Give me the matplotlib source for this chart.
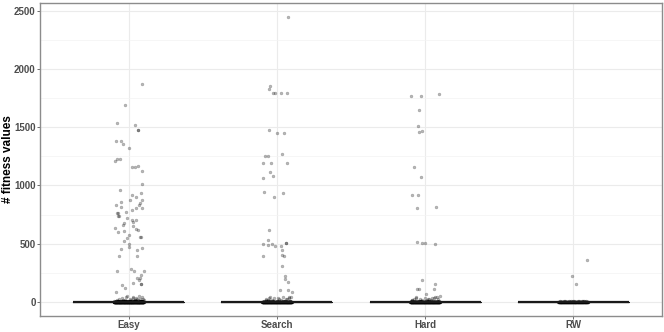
import numpy as np
import matplotlib
matplotlib.use("Agg")
import matplotlib.pyplot as plt

categories = ["Easy", "Search", "Hard", "RW"]
y_label = "# fitness values"
y_ticks = [0, 500, 1000, 1500, 2000, 2500]

# visible (non-zero) jittered points: jitter offset and value
easy_off = [0.088, -0.027, -0.08, 0.04, 0.06, 0.062, -0.09, -0.05, -0.04, 0.0, -0.08, -0.06, -0.095,
            0.02, 0.04, 0.06, 0.088, 0.09, -0.06, 0.08, 0.02, 0.05, 0.09, 0.01, -0.05, -0.09, 0.075,
            0.068, -0.055, 0.05, -0.08, -0.075, -0.02, 0.02, 0.088, -0.07, -0.065, -0.01, 0.02, 0.05,
            -0.03, 0.03, -0.095, -0.04, 0.03, 0.05, -0.07, -0.035, 0.06, 0.0, 0.075, 0.085, -0.015,
            -0.035, 0.0, 0.0, -0.05, 0.09, 0.055, -0.065, 0.055, -0.08, 0.013, 0.1, 0.035, 0.08, 0.075,
            0.055, 0.068, 0.08, 0.082, -0.047, 0.027, -0.027, -0.088,
            -0.097, -0.09, -0.083, -0.078, -0.072, -0.066, -0.061, -0.055, -0.049, -0.044, -0.038,
            -0.033, -0.027, -0.021, -0.016, -0.011, -0.005, 0.001, 0.006, 0.012, 0.017, 0.023, 0.028,
            0.034, 0.039, 0.045, 0.05, 0.056, 0.061, 0.067, 0.072, 0.078, 0.083, 0.089, 0.094, 0.099,
            -0.093, -0.07, -0.052, -0.031, -0.012, 0.008, 0.026, 0.044, 0.063, 0.081, 0.097, -0.086,
            -0.058, -0.024, 0.015, 0.052, 0.088, -0.067, -0.04, 0.003, 0.037, 0.07, -0.015, 0.03]
easy_val = [1871, 1690, 1534, 1517, 1474, 1480, 1379, 1379, 1353, 1319, 1224, 1224, 1207,
            1155, 1155, 1164, 1121, 1009, 957, 931, 922, 897, 879, 879, 862, 836, 853,
            828, 819, 810, 767, 767, 776, 793, 802, 741, 741, 716, 707, 707,
            681, 690, 638, 664, 655, 629, 603, 612, 620, 578, 560, 560, 552,
            526, 500, 474, 457, 466, 448, 397, 397, 267, 284, 267, 267, 233, 207,
            207, 190, 155, 155, 147, 164, 121, 86,
            3, 8, 1, 15, 5, 22, 2, 9, 31, 4, 12, 0, 18, 6, 40, 2, 11, 7, 25, 1, 14, 3, 45, 9, 19, 5,
            33, 2, 12, 50, 6, 27, 8, 38, 4, 16, 2, 7, 1, 10, 3, 5, 0, 13, 2, 6, 21, 1, 4, 9, 2, 28,
            3, 0, 6, 2, 11, 1, 48, 35]

search_off = [0.074, -0.05, -0.052, -0.03, -0.01, 0.03, 0.07, -0.055, 0.0, 0.05, 0.035, -0.08,
              -0.06, -0.095, -0.04, 0.065, -0.047, -0.027, -0.095, -0.088, -0.02, 0.04, -0.054,
              -0.061, -0.095, -0.061, -0.034, -0.014, 0.027, 0.06, 0.062, 0.034, -0.095, 0.034,
              0.047, 0.034, 0.054, 0.054, 0.074, 0.02, 0.074, 0.1,
              -0.095, -0.087, -0.08, -0.071, -0.064, -0.056, -0.047, -0.04, -0.033, -0.025, -0.017,
              -0.009, -0.002, 0.006, 0.014, 0.022, 0.03, 0.038, 0.046, 0.054, 0.062, 0.07, 0.078,
              0.086, 0.094, -0.06, -0.045, -0.03, 0.01, 0.042, 0.066, 0.08, 0.09, -0.076, -0.052]
search_val = [2448, 1853, 1827, 1793, 1793, 1793, 1793, 1474, 1448, 1448, 1267, 1250,
              1250, 1190, 1190, 1190, 1112, 1078, 1060, 940, 905, 931, 621,
              534, 500, 491, 500, 483, 483, 509, 509, 448, 397, 405,
              397, 310, 224, 198, 172, 103, 103, 86,
              2, 6, 1, 12, 3, 30, 8, 1, 18, 4, 36, 2, 9, 5, 22, 1, 14, 40, 3, 7, 26, 2, 34, 10, 42,
              15, 38, 4, 32, 6, 28, 44, 11, 20, 5]

hard_off = [-0.095, -0.03, 0.095, -0.04, -0.047, -0.04, -0.02, -0.074, -0.027, -0.088, -0.047,
            0.074, -0.054, -0.054, -0.02, 0.0, 0.068, -0.02, 0.068, -0.054, -0.04, 0.06, 0.007, 0.1,
            -0.098, -0.09, -0.082, -0.074, -0.066, -0.058, -0.05, -0.042, -0.034, -0.026, -0.018,
            -0.01, -0.002, 0.006, 0.014, 0.022, 0.03, 0.038, 0.046, 0.054, 0.062, 0.07, 0.078,
            0.086, 0.094, -0.085, -0.063, -0.045, -0.029, -0.006, 0.018, 0.041, 0.058, 0.083]
hard_val = [1767, 1767, 1784, 1647, 1509, 1457, 1466, 1155, 1069, 914, 914,
            819, 802, 517, 509, 509, 500, 190, 155, 112, 112, 112, 69, 52,
            3, 14, 1, 24, 6, 33, 2, 10, 28, 4, 19, 1, 36, 7, 12, 3, 22, 5, 30, 2, 9, 40, 4,
            26, 8, 17, 38, 6, 11, 2, 20, 15, 34, 44]

rw_off = [0.095, -0.007, 0.02,
          -0.09, -0.075, -0.06, -0.045, -0.03, -0.015, 0.0, 0.015, 0.03, 0.045, 0.06, 0.075, 0.09,
          -0.082, -0.052, -0.022, 0.008, 0.038, 0.068]
rw_val = [362, 224, 155,
          4, 1, 7, 2, 9, 3, 5, 1, 8, 2, 6, 3, 10, 2, 5, 1, 4, 7, 3]

# count of runs with exactly 0 (dense band at zero)
zero_counts = [420, 300, 320, 200]

groups_off = [easy_off, search_off, hard_off, rw_off]
groups_val = [easy_val, search_val, hard_val, rw_val]

fig = plt.figure(figsize=(6.64, 3.32), dpi=100)
ax = fig.add_axes([40 / 664, 16 / 332, 622 / 664, 313 / 332])

pt_kw = dict(s=4.5, color="black", alpha=0.28, linewidths=0.3, edgecolors="black", zorder=3)
all_data = []
for i, (offs, vals, nz) in enumerate(zip(groups_off, groups_val, zero_counts)):
    pos = i + 1
    data = list(vals) + [0] * nz
    all_data.append(data)
    zoffs = np.linspace(-0.1, 0.1, nz)
    ax.scatter(pos + np.asarray(offs), vals, **pt_kw)
    ax.scatter(pos + zoffs, np.zeros(nz), **pt_kw)

ax.boxplot(all_data, positions=[1, 2, 3, 4], widths=0.75, showfliers=False,
           patch_artist=False, zorder=4,
           boxprops=dict(color="#1a1a1a", linewidth=0.8),
           whiskerprops=dict(color="#1a1a1a", linewidth=0.8),
           capprops=dict(linewidth=0),
           medianprops=dict(color="#1a1a1a", linewidth=1.6))

ax.set_xlim(0.4, 4.6)
ax.set_ylim(-122, 2568)
ax.set_xticks([1, 2, 3, 4])
ax.set_xticklabels(categories)
ax.set_yticks(y_ticks)
ax.set_yticks([250, 750, 1250, 1750, 2250], minor=True)
ax.grid(True, which="major", color="#EBEBEB", linewidth=0.8, zorder=0)
ax.grid(True, which="minor", axis="y", color="#F3F3F3", linewidth=0.5, zorder=0)
ax.set_axisbelow(True)
for s in ax.spines.values():
    s.set_color("#8c8c8c")
    s.set_linewidth(1.0)
ax.tick_params(axis="both", which="major", length=2.2, color="#555555", width=0.6,
               labelsize=7, labelcolor="#4D4D4D", pad=1)
ax.tick_params(axis="both", which="minor", length=0)
for lab in ax.get_xticklabels() + ax.get_yticklabels():
    lab.set_fontfamily("Liberation Sans")
    lab.set_fontweight("bold")
ax.set_ylabel(y_label, fontsize=8.5, fontweight="bold", fontfamily="Liberation Sans",
              va="center")
ax.yaxis.set_label_coords(-32 / 622, 0.5)

fig.savefig("out.png", dpi=100)
